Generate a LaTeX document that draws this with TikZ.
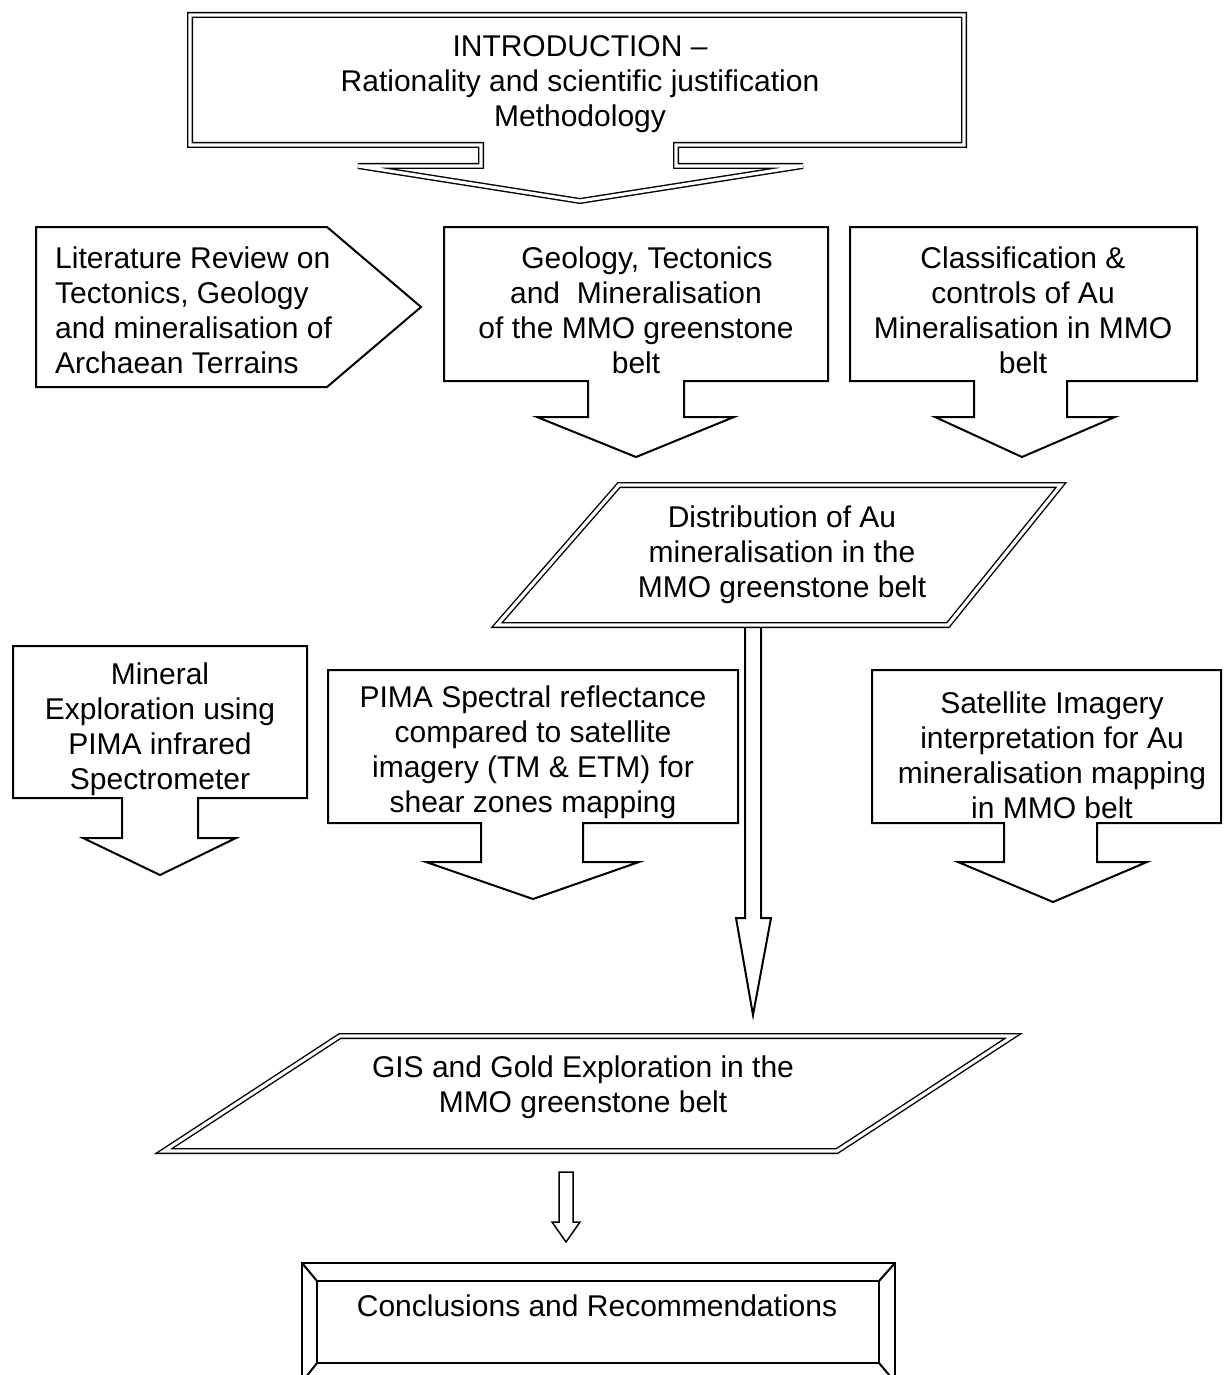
\documentclass[tikz,border=0pt]{standalone}
\usepackage{fontspec}
\setmainfont{Liberation Sans}
\begin{document}
\begin{tikzpicture}[x=1pt,y=-1pt,
  shp/.style={draw=black,line width=2pt,line join=miter},
  dbl/.style={draw=black,line width=1.4pt,double=white,double distance=3.2pt,line join=miter},
  txt/.style={inner sep=0pt,align=center,font=\fontsize{30}{35}\selectfont}]
\useasboundingbox[fill=white] (0,0) rectangle (1223,1375);
\clip (0,0) rectangle (1223,1375);

% Introduction callout (double line)
\draw[dbl] (190,15) -- (964,15) -- (964,145) -- (676,145) -- (676,166) -- (803,166)
  -- (580,201) -- (358,166) -- (481,166) -- (481,145) -- (190,145) -- cycle;
\node[txt] (intro) at (580,84) {INTRODUCTION –\\Rationality and scientific justification\\Methodology};

% Literature review pentagon
\draw[shp] (36,227) -- (327,227) -- (421,307) -- (327,387) -- (36,387) -- cycle;
\node[txt,align=left,anchor=west] (lit) at (55,310) {Literature Review on\\Tectonics, Geology\\and mineralisation of\\Archaean Terrains};

% Geology callout
\draw[shp] (444,227) -- (828,227) -- (828,381) -- (684,381) -- (684,417) -- (734,417)
  -- (636,457) -- (537,417) -- (588,417) -- (588,381) -- (444,381) -- cycle;
\node[txt] (geo) at (636,310) {\hspace*{22pt}Geology, Tectonics\\and\ \ Mineralisation\\of the MMO greenstone\\belt};

% Classification callout
\draw[shp] (850,227) -- (1197,227) -- (1197,381) -- (1067,381) -- (1067,417) -- (1115,417)
  -- (1022,457) -- (935,417) -- (974,417) -- (974,381) -- (850,381) -- cycle;
\node[txt] (cls) at (1023,310) {Classification \&\\controls of Au\\Mineralisation in MMO\\belt};

% Distribution parallelogram (double)
\draw[dbl] (619,485) -- (1061,485) -- (948,625) -- (497,625) -- cycle;
\node[txt] (dist) at (782,555) {Distribution of Au\\mineralisation in the\\MMO greenstone belt};

% Long hollow arrow to GIS
\coordinate (ltop) at (753,627);
\coordinate (ltip) at (753,1015);
\draw[shp] ([xshift=-8pt]ltop) -- ([xshift=-8pt]ltop |- 0,918) -- (736,918) -- (ltip)
  -- (771,918) -- ([xshift=8pt]ltop |- 0,918) -- ([xshift=8pt]ltop);

% Mineral exploration callout
\draw[shp] (13,646) -- (307,646) -- (307,798) -- (198,798) -- (198,838) -- (236,838)
  -- (160,875) -- (83,838) -- (122,838) -- (122,798) -- (13,798) -- cycle;
\node[txt] (min) at (160,729) {Mineral\\Exploration using\\PIMA infrared\\Spectrometer};

% PIMA callout
\draw[shp] (328,670) -- (738,670) -- (738,823) -- (583,823) -- (583,862) -- (639,862)
  -- (533,899) -- (426,862) -- (481,862) -- (481,823) -- (328,823) -- cycle;
\node[txt] (pima) at (533,752) {PIMA Spectral reflectance\\compared to satellite\\imagery (TM \& ETM) for\\shear zones mapping};

% Satellite callout
\draw[shp] (872,670) -- (1221,670) -- (1221,823) -- (1097,823) -- (1097,862) -- (1147,862)
  -- (1053,902) -- (958,862) -- (1004,862) -- (1004,823) -- (872,823) -- cycle;
\node[txt] (sat) at (1052,755) {Satellite Imagery\\interpretation for Au\\mineralisation mapping\\in MMO belt};

% GIS parallelogram (double)
\draw[dbl] (340,1036) -- (1013,1036) -- (837,1151) -- (164,1151) -- cycle;
\node[txt] (gis) at (583,1087) {GIS and Gold Exploration in the\\MMO greenstone belt};

% Small hollow arrow
\coordinate (stop) at (566,1172);
\coordinate (stip) at (566,1242);
\draw[draw=black,line width=1.5pt] ([xshift=-7pt]stop) -- ([xshift=-7pt]stop |- 0,1222) -- (552,1222)
  -- (stip) -- (580,1222) -- ([xshift=7pt]stop |- 0,1222) -- ([xshift=7pt]stop) -- cycle;

% Conclusions bevel box
\draw[shp] (302,1263) rectangle (895,1382);
\draw[shp] (317,1281) rectangle (879,1363);
\draw[shp] (302,1263) -- (317,1281) (895,1263) -- (879,1281)
  (302,1382) -- (317,1363) (895,1382) -- (879,1363);
\node[txt] (concl) at (597,1306) {Conclusions and Recommendations};
\end{tikzpicture}
\end{document}
